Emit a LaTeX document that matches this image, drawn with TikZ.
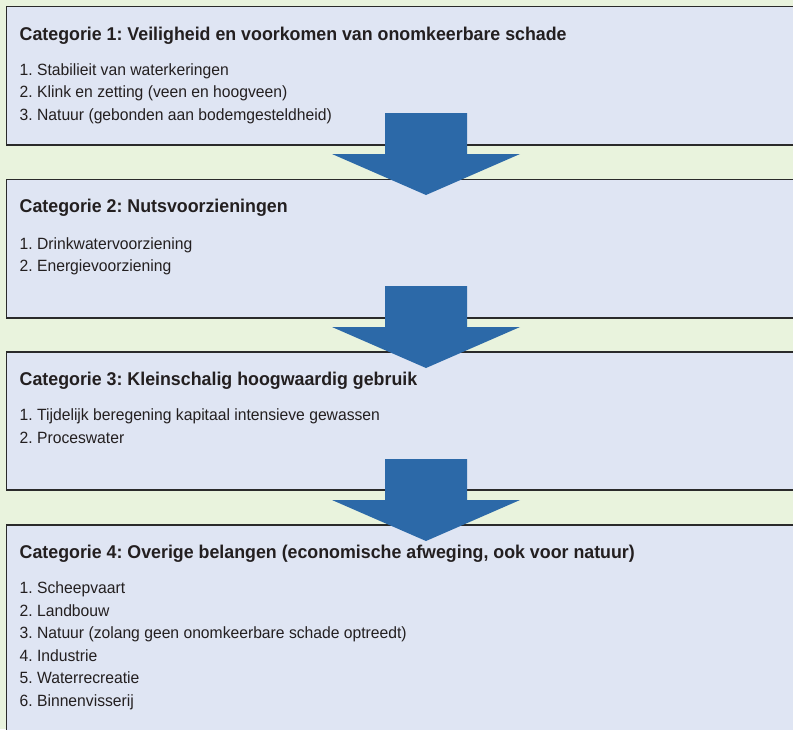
\documentclass[tikz,border=0pt]{standalone}
\usepackage{fontspec}
\setmainfont{Liberation Sans}[FakeStretch=0.962]
\frenchspacing
\definecolor{bgc}{HTML}{E9F3DD}
\definecolor{boxc}{HTML}{DFE5F3}
\definecolor{arrowc}{HTML}{2C69A8}
\definecolor{linec}{HTML}{2A2A2A}
\definecolor{textc}{HTML}{231F20}
\tikzset{
  catbox/.style={draw=linec, line width=1.5pt, fill=boxc, anchor=north west, minimum width=805pt, inner sep=0pt},
  cattitle/.style={anchor=base west, inner sep=0pt, text=textc, font=\fontsize{18.5}{22}\selectfont\bfseries},
  catitem/.style={anchor=base west, inner sep=0pt, text=textc, font=\fontsize{16.3}{20}\selectfont},
  downarrow/.pic={\fill[arrowc] (-41,0) -- (41,0) -- (41,41) -- (94,41) -- (0,82) -- (-94,41) -- (-41,41) -- cycle;}
}
\begin{document}
\begin{tikzpicture}[x=1pt,y=-1pt]
\useasboundingbox (0,0) rectangle (793,729);
\clip (0,0) rectangle (793,729);
\fill[bgc] (0,0) rectangle (793,729);
% boxes
\node[catbox, minimum height=138.5pt] (c1) at (5.5,5.5) {};
\node[catbox, minimum height=138.5pt] (c2) at (5.5,178.5) {};
\node[catbox, minimum height=138pt] (c3) at (5.5,351) {};
\node[catbox, minimum height=230pt] (c4) at (5.5,524) {};
% texts box 1
\node[cattitle] (t1) at (19.5,40) {Categorie 1: Veiligheid en voorkomen van onomkeerbare schade};
\node[catitem] (t1a) at (19.5,75) {1. Stabilieit van waterkeringen};
\node[catitem] (t1b) at (19.5,97.5) {2. Klink en zetting (veen en hoogveen)};
\node[catitem] (t1c) at (19.5,120) {3. Natuur (gebonden aan bodemgesteldheid)};
% box 2
\node[cattitle] (t2) at (19.5,212.7) {Categorie 2: Nutsvoorzieningen};
\node[catitem] (t2a) at (19.5,249) {1. Drinkwatervoorziening};
\node[catitem] (t2b) at (19.5,271.5) {2. Energievoorziening};
% box 3
\node[cattitle] (t3) at (19.5,385) {Categorie 3: Kleinschalig hoogwaardig gebruik};
\node[catitem] (t3a) at (19.5,420.5) {1. Tijdelijk beregening kapitaal intensieve gewassen};
\node[catitem] (t3b) at (19.5,443) {2. Proceswater};
% box 4
\node[cattitle] (t4) at (19.5,558.5) {Categorie 4: Overige belangen (economische afweging, ook voor natuur)};
\node[catitem] (t4a) at (19.5,593.5) {1. Scheepvaart};
\node[catitem] (t4b) at (19.5,616) {2. Landbouw};
\node[catitem] (t4c) at (19.5,638.5) {3. Natuur (zolang geen onomkeerbare schade optreedt)};
\node[catitem] (t4d) at (19.5,661) {4. Industrie};
\node[catitem] (t4e) at (19.5,683.5) {5. Waterrecreatie};
\node[catitem] (t4f) at (19.5,706.5) {6. Binnenvisserij};
% arrows
\coordinate (a1) at (426,113);
\coordinate (a2) at (426,286);
\coordinate (a3) at (426,459);
\pic at (a1) {downarrow};
\pic at (a2) {downarrow};
\pic at (a3) {downarrow};
\end{tikzpicture}
\end{document}
